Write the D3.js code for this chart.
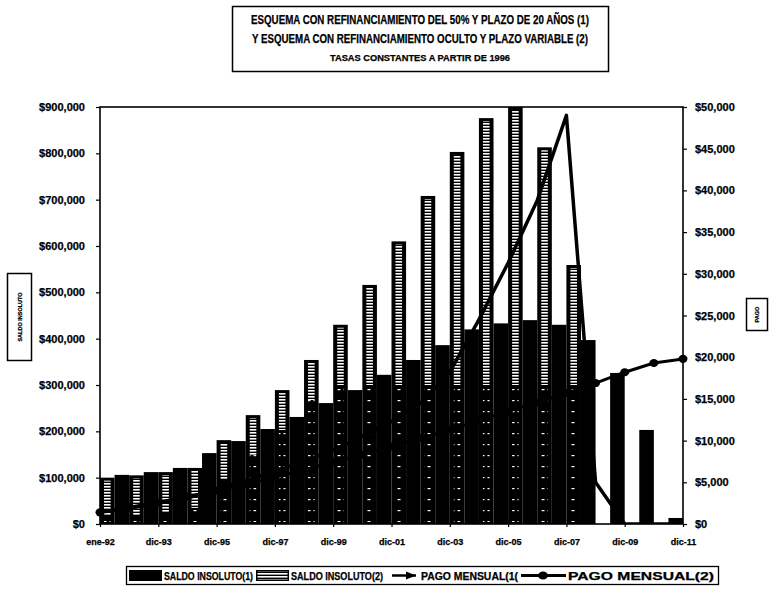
<!DOCTYPE html>
<html>
<head>
<meta charset="utf-8">
<script src="https://cdn.jsdelivr.net/npm/d3@7/dist/d3.min.js"></script>
<style>
  html, body { margin: 0; padding: 0; background: #fff; }
  svg { display: block; }
  text { font-family: "Liberation Sans", Arial, sans-serif; font-weight: bold; fill: #000; stroke: #000; stroke-width: 0.25px; }
</style>
</head>
<body>
<svg id="chart" width="780" height="589"></svg>
<script>
// Year-end categories (January 1992 opening, then each December)
const categories = ["ene-92","dic-92","dic-93","dic-94","dic-95","dic-96","dic-97","dic-98","dic-99",
  "dic-00","dic-01","dic-02","dic-03","dic-04","dic-05","dic-06","dic-07","dic-08","dic-09","dic-10","dic-11"];
const tickLabels = ["ene-92","dic-93","dic-95","dic-97","dic-99","dic-01","dic-03","dic-05","dic-07","dic-09","dic-11"];

// Outstanding balance, scheme (1): 50% refinancing, 20-year term
const saldo1 = [100000,106000,112000,121000,153000,179000,205000,231000,261000,289000,
  322000,354000,386000,420000,433000,440000,430000,397000,326000,203000,13000];
// Outstanding balance, scheme (2): hidden refinancing, variable term
const saldo2 = [100000,105000,112000,121000,181000,235000,289000,354000,430000,516000,
  610000,708000,803000,876000,900000,813000,559000,0,0,0,0];
// Monthly payment, scheme (1)
const pago1 = [1400,1900,2500,3100,4200,5200,6300,7500,8900,10500,
  12300,14500,18200,24500,31300,38800,49000,5000,0,0,0];
// Monthly payment, scheme (2)
const pago2 = [1400,2000,2600,3300,4000,4800,5600,6500,7400,8300,
  9300,10300,11300,12400,13500,14600,15700,16900,18200,19300,19800];

const leftTicks = [0,100000,200000,300000,400000,500000,600000,700000,800000,900000];
const rightTicks = [0,5000,10000,15000,20000,25000,30000,35000,40000,45000,50000];

const svg = d3.select("#chart");
const L = 100, R = 683, T = 107, B = 524;

const x = d3.scalePoint().domain(categories).range([L, R]).padding(0);
const half = x.step() / 2;
const yL = d3.scaleLinear().domain([0, 900000]).range([B, T]);
const yR = d3.scaleLinear().domain([0, 50000]).range([B, T]);
const money = v => "$" + d3.format(",")(v);

const defs = svg.append("defs");
// Dense horizontal hatch (upper part of the outlined bars)
const pat = defs.append("pattern").attr("id", "hatch").attr("patternUnits", "userSpaceOnUse")
  .attr("width", 6).attr("height", 3);
pat.append("rect").attr("width", 6).attr("height", 3).attr("fill", "#fff");
pat.append("rect").attr("y", 1.6).attr("width", 6).attr("height", 1.4).attr("fill", "#000");
// Sparse hatch (lower, heavily inked part of the bars)
const pat2 = defs.append("pattern").attr("id", "hatchSparse").attr("patternUnits", "userSpaceOnUse")
  .attr("width", 6).attr("height", 11);
pat2.append("rect").attr("width", 6).attr("height", 11).attr("fill", "#000");
pat2.append("rect").attr("x", 1.5).attr("y", 4).attr("width", 3).attr("height", 1.2).attr("fill", "#fff");
defs.append("clipPath").attr("id", "plotClip").append("rect")
  .attr("x", L).attr("y", T - 2).attr("width", R - L).attr("height", B - T + 2);

// Title box
svg.append("rect").attr("x", 232.5).attr("y", 6.5).attr("width", 376).attr("height", 65)
  .attr("fill", "none").attr("stroke", "#000").attr("stroke-width", 1.5);
const titles = [
  {t: "ESQUEMA CON REFINANCIAMIENTO DEL 50% Y PLAZO DE 20 AÑOS (1)", y: 24, s: 12, w: 338},
  {t: "Y ESQUEMA CON REFINANCIAMIENTO OCULTO Y PLAZO VARIABLE (2)", y: 43, s: 12, w: 336},
  {t: "TASAS CONSTANTES A PARTIR DE 1996", y: 61, s: 8.5, w: 180}
];
titles.forEach(d => {
  svg.append("text").attr("x", 420 - d.w / 2).attr("y", d.y).attr("font-size", d.s)
    .attr("textLength", d.w).attr("lengthAdjust", "spacingAndGlyphs").text(d.t);
});

const plot = svg.append("g").attr("clip-path", "url(#plotClip)");

// Scheme (1) balance: solid bars on the left half of each slot
plot.selectAll("rect.s1").data(saldo1).join("rect").attr("class", "s1")
  .attr("x", (d, i) => x(categories[i]) - half).attr("width", half)
  .attr("y", d => yL(d)).attr("height", d => B - yL(d)).attr("fill", "#000");

// Scheme (2) balance: outlined hatched bars on the right half
const s2 = plot.selectAll("g.s2").data(saldo2.map((v, i) => ({v, i})).filter(d => d.v > 0))
  .join("g").attr("class", "s2");
s2.append("rect").attr("x", d => x(categories[d.i])).attr("width", half)
  .attr("y", d => yL(d.v)).attr("height", d => B - yL(d.v)).attr("fill", "#000");
const clearEnd = d => Math.min(B - 8, Math.max(yL(d.v) + 40, 385));
s2.append("rect").attr("x", d => x(categories[d.i]) + 4).attr("width", half - 8)
  .attr("y", d => yL(d.v) + 3).attr("height", d => Math.max(0, clearEnd(d) - yL(d.v) - 3))
  .attr("fill", "url(#hatch)");
s2.append("rect").attr("x", d => x(categories[d.i]) + 4).attr("width", half - 8)
  .attr("y", d => clearEnd(d)).attr("height", d => Math.max(0, B - 2 - clearEnd(d)))
  .attr("fill", "url(#hatchSparse)");

// Payment lines on the right axis
const line = d3.line().x((d, i) => x(categories[i])).y(d => yR(d));
plot.append("path").datum(pago1).attr("d", line).attr("fill", "none")
  .attr("stroke", "#000").attr("stroke-width", 3.5).attr("stroke-linejoin", "round");
plot.append("path").datum(pago2).attr("d", line).attr("fill", "none")
  .attr("stroke", "#000").attr("stroke-width", 3).attr("stroke-linejoin", "round");
svg.selectAll("ellipse.m2").data(pago2).join("ellipse").attr("class", "m2")
  .attr("cx", (d, i) => x(categories[i])).attr("cy", d => yR(d))
  .attr("rx", 4.5).attr("ry", 4).attr("fill", "#000");

// Plot frame
svg.append("rect").attr("x", L).attr("y", T).attr("width", R - L).attr("height", B - T)
  .attr("fill", "none").attr("stroke", "#000").attr("stroke-width", 1.6);

// Axes
const axL = svg.append("g").attr("transform", `translate(${L},0)`)
  .call(d3.axisLeft(yL).tickValues(leftTicks).tickFormat(money).tickSize(4).tickPadding(11));
const axR = svg.append("g").attr("transform", `translate(${R},0)`)
  .call(d3.axisRight(yR).tickValues(rightTicks).tickFormat(money).tickSize(4).tickPadding(8));
const axB = svg.append("g").attr("transform", `translate(0,${B})`)
  .call(d3.axisBottom(x).tickValues(tickLabels).tickSize(3).tickPadding(12));
[axL, axR, axB].forEach(g => {
  g.select(".domain").remove();
  g.selectAll(".tick line").attr("stroke", "#000").attr("stroke-width", 1.2);
  g.selectAll("text").attr("font-family", "Liberation Sans, Arial, sans-serif").attr("font-weight", "bold");
});
axL.selectAll("text").attr("font-size", 11);
axR.selectAll("text").attr("font-size", 11);
axB.selectAll("text").attr("font-size", 9);

// Axis title boxes
svg.append("rect").attr("x", 7.5).attr("y", 273.5).attr("width", 24).attr("height", 87)
  .attr("fill", "none").attr("stroke", "#000").attr("stroke-width", 1.5);
svg.append("text").attr("transform", "translate(22,317) rotate(-90)").attr("text-anchor", "middle")
  .attr("font-size", 5.5).attr("stroke-width", 0.1).text("SALDO INSOLUTO");
svg.append("rect").attr("x", 746.5).attr("y", 298.5).attr("width", 21).attr("height", 32)
  .attr("fill", "none").attr("stroke", "#000").attr("stroke-width", 1.5);
svg.append("text").attr("transform", "translate(759,314.5) rotate(-90)").attr("text-anchor", "middle")
  .attr("font-size", 5.5).attr("stroke-width", 0.1).text("PAGO");

// Legend
const lg = svg.append("g");
lg.append("rect").attr("x", 126.5).attr("y", 566.5).attr("width", 592).attr("height", 18)
  .attr("fill", "none").attr("stroke", "#000").attr("stroke-width", 1.3);
lg.append("rect").attr("x", 129).attr("y", 570).attr("width", 33).attr("height", 11).attr("fill", "#000");
lg.append("text").attr("x", 164).attr("y", 580).attr("font-size", 10).attr("textLength", 89)
  .attr("lengthAdjust", "spacingAndGlyphs").text("SALDO INSOLUTO(1)");
lg.append("rect").attr("x", 256).attr("y", 570).attr("width", 33).attr("height", 11).attr("fill", "#000");
lg.append("rect").attr("x", 257.5).attr("y", 571.5).attr("width", 30).attr("height", 8).attr("fill", "url(#hatch)");
lg.append("text").attr("x", 291).attr("y", 580).attr("font-size", 10).attr("textLength", 92)
  .attr("lengthAdjust", "spacingAndGlyphs").text("SALDO INSOLUTO(2)");
lg.append("line").attr("x1", 392).attr("x2", 416).attr("y1", 575.5).attr("y2", 575.5)
  .attr("stroke", "#000").attr("stroke-width", 2.5);
lg.append("path").attr("d", "M406,571.5 L416,575.5 L406,579.5 Z").attr("fill", "#000");
lg.append("text").attr("x", 421).attr("y", 580).attr("font-size", 10).attr("textLength", 97)
  .attr("lengthAdjust", "spacingAndGlyphs").text("PAGO MENSUAL(1(");
lg.append("line").attr("x1", 521).attr("x2", 566).attr("y1", 575.5).attr("y2", 575.5)
  .attr("stroke", "#000").attr("stroke-width", 3);
lg.append("ellipse").attr("cx", 543).attr("cy", 575.5).attr("rx", 5).attr("ry", 4).attr("fill", "#000");
lg.append("text").attr("x", 568).attr("y", 580).attr("font-size", 10.5).attr("textLength", 146)
  .attr("lengthAdjust", "spacingAndGlyphs").text("PAGO MENSUAL(2)");
</script>
</body>
</html>
